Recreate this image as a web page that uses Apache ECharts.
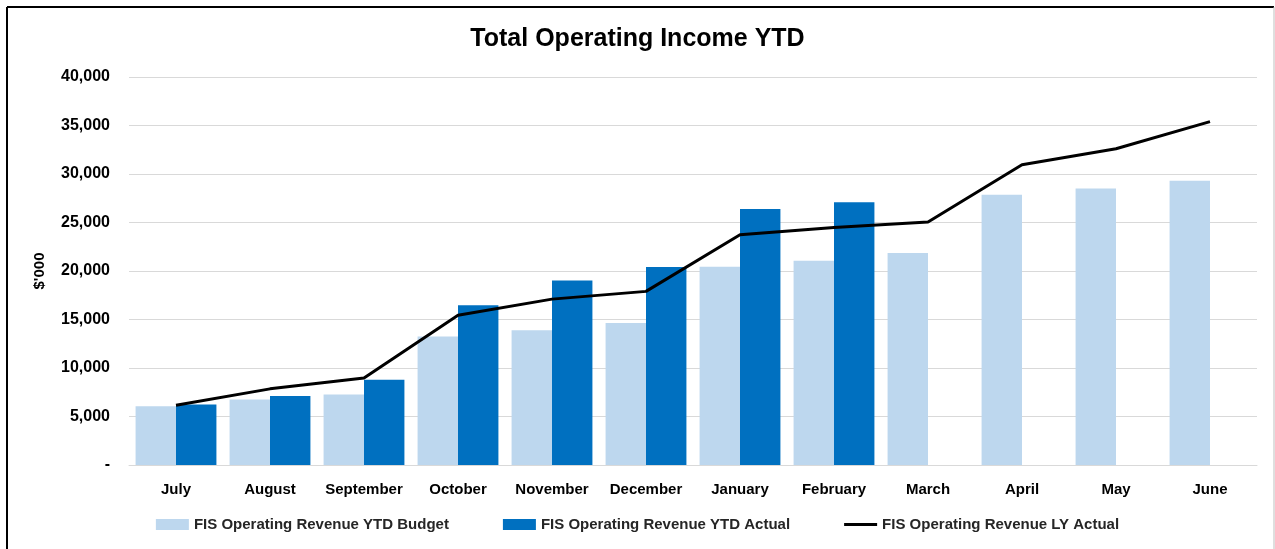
<!DOCTYPE html>
<html>
<head>
<meta charset="utf-8">
<script src="https://cdn.jsdelivr.net/npm/echarts@6/dist/echarts.min.js"></script>
<style>
  html, body { margin: 0; padding: 0; background: #fff; }
  #chart { width: 1275px; height: 549px; }
</style>
</head>
<body>
<div id="chart"></div>
<script>
// months of the financial year
const months = ['July', 'August', 'September', 'October', 'November', 'December',
  'January', 'February', 'March', 'April', 'May', 'June']

// $'000
const budgetYTD = [6050, 6750, 7260, 13260, 13880, 14640, 20450, 21060, 21850, 27860, 28500, 29300]
const actualYTD = [6230, 7120, 8800, 16460, 19030, 20410, 26380, 27100, null, null, null, null]
const lastYearActual = [6150, 7850, 8980, 15430, 17100, 17900, 23740, 24490, 25050, 30950, 32600, 35400]

const seriesNames = [
  'FIS Operating Revenue YTD Budget',
  'FIS Operating Revenue YTD Actual',
  'FIS Operating Revenue LY Actual'
]

const font = '"Liberation Sans", Arial, sans-serif'

const myChart = echarts.init(document.getElementById('chart'))

const option = {
  animation: false,
  backgroundColor: '#fff',
  title: {
    text: 'Total Operating Income YTD',
    left: 'center',
    top: 22,
    textStyle: { fontFamily: font, fontSize: 25, fontWeight: 'bold', color: '#000' }
  },
  grid: { left: 129, right: 18, top: 77, bottom: 84 },
  legend: {
    bottom: 12,
    left: 'center',
    itemGap: 54,
    itemWidth: 33,
    itemHeight: 11,
    textStyle: { fontFamily: font, fontSize: 15, fontWeight: 'bold', color: '#262626', padding: [0, 0, 0, 0] },
    data: [
      { name: seriesNames[0], icon: 'rect' },
      { name: seriesNames[1], icon: 'rect' },
      // plain line, no marker
      { name: seriesNames[2], icon: 'path://M0,0 L33,0 L33,3 L0,3 Z' }
    ]
  },
  xAxis: {
    type: 'category',
    data: months,
    axisLine: { lineStyle: { color: '#d9d9d9', width: 1 } },
    axisTick: { show: false },
    axisLabel: { interval: 0, fontFamily: font, fontSize: 15, fontWeight: 'bold', color: '#000', margin: 17 }
  },
  yAxis: {
    type: 'value',
    min: 0,
    max: 40000,
    interval: 5000,
    name: "$'000",
    nameLocation: 'middle',
    nameGap: 82,
    nameRotate: 90,
    nameTextStyle: { fontFamily: font, fontSize: 15, fontWeight: 'bold', color: '#000' },
    axisLine: { show: false },
    axisTick: { show: false },
    splitLine: { lineStyle: { color: '#d9d9d9', width: 1 } },
    axisLabel: {
      fontFamily: font, fontSize: 16, fontWeight: 'bold', color: '#000', margin: 19,
      formatter: v => v === 0 ? '-' : v.toLocaleString('en-US')
    }
  },
  series: [
    {
      name: seriesNames[0],
      type: 'bar',
      data: budgetYTD,
      barGap: '0%',
      barCategoryGap: '14%',
      itemStyle: { color: '#bdd7ee' }
    },
    {
      name: seriesNames[1],
      type: 'bar',
      data: actualYTD,
      itemStyle: { color: '#0070c0' }
    },
    {
      name: seriesNames[2],
      type: 'line',
      data: lastYearActual,
      symbol: 'none',
      lineStyle: { color: '#000', width: 3 },
      itemStyle: { color: '#000' },
      z: 5
    }
  ],
  graphic: [
    { type: 'line', shape: { x1: 7, y1: 7, x2: 1274, y2: 7 }, style: { stroke: '#000', lineWidth: 2 } },
    { type: 'line', shape: { x1: 7, y1: 7, x2: 7, y2: 549 }, style: { stroke: '#000', lineWidth: 2 } },
    { type: 'line', shape: { x1: 1274, y1: 7, x2: 1274, y2: 549 }, style: { stroke: '#bfbfbf', lineWidth: 1 } }
  ]
}

option && myChart.setOption(option)
</script>
</body>
</html>
